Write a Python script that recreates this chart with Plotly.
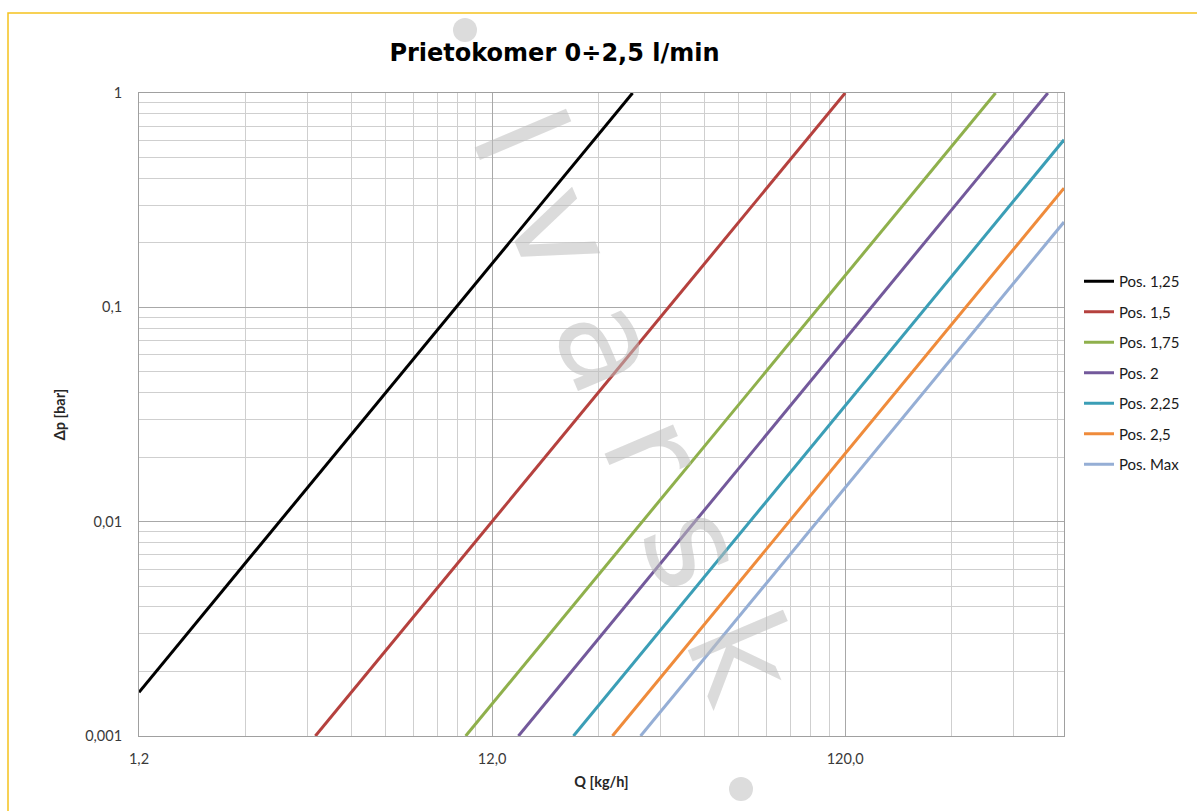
import math
import plotly.graph_objects as go

# ---- data ----
series_names = ["Pos. 1,25", "Pos. 1,5", "Pos. 1,75", "Pos. 2", "Pos. 2,25", "Pos. 2,5", "Pos. Max"]
series_colors = ["#000000", "#B5413E", "#8FB04C", "#73599B", "#3B9EB6", "#EF8B3B", "#95AED5"]
# each line is straight on the log-log grid: start point and end point
q_start = [1.2, 3.79, 10.1, 14.25, 20.4, 26.3, 31.6]
dp_start = [0.0016, 0.001, 0.001, 0.001, 0.001, 0.001, 0.001]
q_end = [30.0, 120.0, 320.0, 450.0, 500.0, 500.0, 500.0]
dp_end = [1.0, 1.0, 1.0, 1.0, 0.605, 0.36, 0.25]

x_ticks = [1.2, 12.0, 120.0]
x_tick_labels = ["1,2", "12,0", "120,0"]
x_minor_ticks = [2.4, 3.6, 4.8, 6.0, 7.2, 8.4, 9.6, 10.8,
                 24, 36, 48, 60, 72, 84, 96, 108,
                 240, 360, 480]
y_ticks = [0.001, 0.01, 0.1, 1]
y_tick_labels = ["0,001", "0,01", "0,1", "1"]
y_minor_ticks = [0.002, 0.003, 0.004, 0.005, 0.006, 0.007, 0.008, 0.009,
                 0.02, 0.03, 0.04, 0.05, 0.06, 0.07, 0.08, 0.09,
                 0.2, 0.3, 0.4, 0.5, 0.6, 0.7, 0.8, 0.9]
x_min, x_max = 1.2, 500.0
y_min, y_max = 0.001, 1.0

title_text = "Prietokomer 0÷2,5 l/min"
x_title = "Q [kg/h]"
y_title = "Δp [bar]"
watermark = "I v a r s k"

# ---- figure ----
fig = go.Figure()
for i, name in enumerate(series_names):
    fig.add_trace(go.Scatter(
        x=[q_start[i], q_end[i]], y=[dp_start[i], dp_end[i]],
        mode="lines", name=name, legendgroup=name,
        line=dict(color=series_colors[i], width=3),
        hoverinfo="x+y+name",
    ))

tick_font = dict(family="Lato", size=14.5, color="#3a3a3a")
axis_title_font = dict(family="Lato", size=14.5, color="#262626")

fig.update_xaxes(
    type="log", range=[math.log10(x_min), math.log10(x_max)],
    tickmode="array", tickvals=x_ticks, ticktext=x_tick_labels,
    showgrid=True, gridcolor="#a8a8a8", gridwidth=1,
    minor=dict(tickmode="array", tickvals=x_minor_ticks, showgrid=True,
               gridcolor="#cfcfcf", gridwidth=1, ticks=""),
    showline=True, linecolor="#a0a0a0", linewidth=1, mirror=True,
    ticks="", zeroline=False, tickfont=tick_font, ticklabelstandoff=10,
    title=dict(text="<b>" + x_title + "</b>", font=axis_title_font, standoff=10),
)
fig.update_yaxes(
    type="log", range=[math.log10(y_min), math.log10(y_max)],
    tickmode="array", tickvals=y_ticks, ticktext=y_tick_labels,
    showgrid=True, gridcolor="#a8a8a8", gridwidth=1,
    minor=dict(tickmode="array", tickvals=y_minor_ticks, showgrid=True,
               gridcolor="#cfcfcf", gridwidth=1, ticks=""),
    showline=True, linecolor="#a0a0a0", linewidth=1, mirror=True,
    ticks="", zeroline=False, tickfont=tick_font, ticklabelstandoff=13,
    title=dict(text="<b>" + y_title + "</b>", font=axis_title_font, standoff=16),
)

W, H = 1197, 811
L, R, T, B = 139, 133, 93, 75
pw, ph = W - L - R, H - T - B


def px_to_paper(px, py):
    return (px - L) / pw, (H - B - py) / ph


# outer gold frame
fx0, fy0 = px_to_paper(8, 13)
fx1, fy1 = px_to_paper(1210, 830)
fig.add_shape(type="rect", xref="paper", yref="paper", x0=fx0, y0=fy1, x1=fx1, y1=fy0,
              line=dict(color="#F5C21E", width=1.5), fillcolor="rgba(0,0,0,0)", layer="above")

# watermark
wx, wy = px_to_paper(635, 405)
fig.add_annotation(xref="paper", yref="paper", x=wx, y=wy, text=watermark,
                   showarrow=False, textangle=67,
                   font=dict(family="DejaVu Sans", size=136, color="rgba(190,190,190,0.55)"))
for cx, cy in [(465, 30), (741, 789)]:
    ax0, ay0 = px_to_paper(cx - 12, cy - 12)
    ax1, ay1 = px_to_paper(cx + 12, cy + 12)
    fig.add_shape(type="circle", xref="paper", yref="paper", x0=ax0, y0=ay1, x1=ax1, y1=ay0,
                  line=dict(width=0), fillcolor="#dcdcdc", layer="above")

lx, ly = px_to_paper(1079, 265)
fig.update_layout(
    width=W, height=H, margin=dict(l=L, r=R, t=T, b=B, autoexpand=False),
    paper_bgcolor="white", plot_bgcolor="white",
    title=dict(text="<b>" + title_text + "</b>", x=554.5 / W, xanchor="center",
               y=1 - 53 / H, yanchor="middle",
               font=dict(family="DejaVu Sans", size=24, color="#000000")),
    legend=dict(x=lx, y=ly, xanchor="left", yanchor="top", tracegroupgap=8,
                font=dict(family="Lato", size=15, color="#1a1a1a"),
                bgcolor="rgba(0,0,0,0)", itemwidth=30),
    showlegend=True,
)

fig.write_html("out.html", config={"displayModeBar": False},
               post_script="document.body.style.margin='0';")
